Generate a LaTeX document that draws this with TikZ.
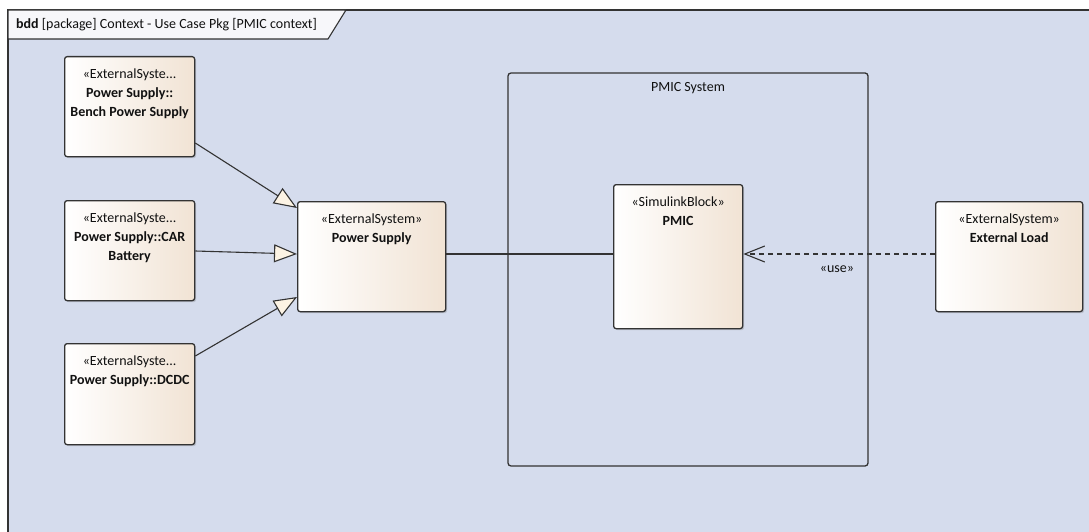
\documentclass[tikz,border=0pt]{standalone}
\usepackage{fontspec}
\setmainfont{Carlito}
\usetikzlibrary{arrows.meta,shadows}

\definecolor{framebg}{HTML}{D5DCED}
\definecolor{tabbg}{HTML}{F7F7FA}
\definecolor{edge}{HTML}{333333}
\definecolor{blockL}{HTML}{FFFFFF}
\definecolor{blockR}{HTML}{F1E3D4}
\definecolor{tipfill}{HTML}{FCF3E4}
\definecolor{ink}{HTML}{111111}

\tikzset{
  block/.style={draw=edge, line width=1.3pt, rounded corners=2.5pt,
    left color=blockL, right color=blockR, anchor=north west,
    inner sep=0pt, drop shadow={shadow xshift=1.5pt, shadow yshift=-1.5pt, opacity=0.25, fill=black!60}},
  txt/.style={font=\fontsize{14}{19}\selectfont, text=ink, align=center, inner sep=0pt},
  gen/.style={draw=edge, line width=1.1pt,
    -{Triangle[length=23pt, width=18pt, fill=tipfill, line width=1.1pt]}},
  assoc/.style={draw=edge, line width=1.1pt},
  usedep/.style={draw=edge, line width=1.1pt, dash pattern=on 5pt off 4pt,
    -{Straight Barb[length=20pt, width=16pt, line width=1.1pt]}},
}

\begin{document}
\begin{tikzpicture}[x=1pt, y=-1pt]
\useasboundingbox (0,0) rectangle (1089,532);
\fill[white] (0,0) rectangle (1089,532);

% diagram frame and its heading tab
\fill[framebg] (8,10) rectangle (1089,532);
\draw[edge, line width=1.4pt] (8,532) -- (8,10) -- (1089,10);
\draw[edge, line width=1.1pt, fill=tabbg] (8,10) -- (346,10) -- (328,39) -- (8,39) -- cycle;
\node[txt, anchor=west] (title) at (16,24.5) {\textbf{bdd} [package] Context - Use Case Pkg [PMIC context]};

% system boundary
\draw[edge, line width=1.3pt, rounded corners=3pt] (508,73) rectangle (868,466);
\node[txt] (systitle) at (688,88) {PMIC System};

% blocks
\node[block, minimum width=130pt, minimum height=100pt] (bench) at (64,56) {};
\node[txt, anchor=north] (benchlbl) at ([yshift=-12.5pt]bench.north) {«ExternalSyste...\\\textbf{Power Supply::}\\\textbf{Bench Power Supply}};

\node[block, minimum width=130pt, minimum height=100pt] (car) at (64,200) {};
\node[txt, anchor=north] (carlbl) at ([yshift=-12.5pt]car.north) {«ExternalSyste...\\\textbf{Power Supply::CAR}\\\textbf{Battery}};

\node[block, minimum width=130pt, minimum height=101pt] (dcdc) at (64,343) {};
\node[txt, anchor=north] (dcdclbl) at ([yshift=-12.5pt]dcdc.north) {«ExternalSyste...\\\textbf{Power Supply::DCDC}};

\node[block, minimum width=148pt, minimum height=110pt] (ps) at (297,201) {};
\node[txt, anchor=north] (pslbl) at ([yshift=-12.5pt]ps.north) {«ExternalSystem»\\\textbf{Power Supply}};

\node[block, minimum width=129pt, minimum height=144pt] (pmic) at (613,184) {};
\node[txt, anchor=north] (pmiclbl) at ([yshift=-12.5pt]pmic.north) {«SimulinkBlock»\\\textbf{PMIC}};

\node[block, minimum width=147pt, minimum height=110pt] (load) at (935,201) {};
\node[txt, anchor=north] (loadlbl) at ([yshift=-12.5pt]load.north) {«ExternalSystem»\\\textbf{External Load}};

% generalizations into Power Supply
\coordinate (b1) at (bench.east |- 0,143);
\coordinate (b2) at (ps.west |- 0,208);
\draw[gen] (b1) -- (b2);
\coordinate (c1) at (car.east |- 0,251);
\coordinate (c2) at (ps.west |- 0,254);
\draw[gen] (c1) -- (c2);
\coordinate (d1) at (dcdc.east |- 0,356);
\coordinate (d2) at (ps.west |- 0,297);
\draw[gen] (d1) -- (d2);

% association Power Supply -- PMIC
\draw[assoc] (ps.east |- 0,254) -- (pmic.west |- 0,254);

% usage dependency
\draw[usedep] (load.west |- 0,254) -- (pmic.east |- 0,254);
\node[txt] (uselbl) at (837,269) {«use»};
\end{tikzpicture}
\end{document}
